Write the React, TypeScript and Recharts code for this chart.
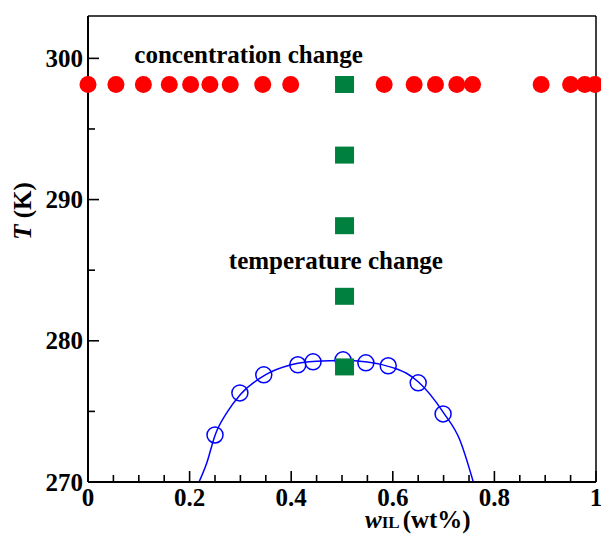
import {
    ComposedChart,
    Line,
    Scatter,
    XAxis,
    YAxis,
    ReferenceLine,
    ReferenceDot
} from 'recharts';

// concentration change points (all at 298.15 K)
const concW = [0, 0.055, 0.109, 0.16, 0.202, 0.24, 0.28, 0.344, 0.399, 0.583, 0.642, 0.684, 0.726, 0.757, 0.892, 0.95, 0.978, 0.998];
const concT = 298.15;

// temperature change points (w = 0.505)
const tempW = 0.505;
const tempT = [298.15, 293.15, 288.15, 283.15, 278.15];

// cloud point measurements
const cloudW = [0.25, 0.299, 0.346, 0.413, 0.443, 0.502, 0.547, 0.591, 0.65, 0.699];
const cloudT = [273.33, 276.31, 277.59, 278.3, 278.51, 278.65, 278.44, 278.23, 277.02, 274.82];

// fitted curve
const curveW = [0.2185, 0.2336, 0.25, 0.275, 0.3, 0.35, 0.4, 0.45, 0.5, 0.55, 0.6, 0.627, 0.65, 0.7, 0.732, 0.7585];
const curveT = [270, 271.33, 273.3, 275.0, 276.2, 277.6, 278.3, 278.55, 278.6, 278.5, 278.1, 277.7, 277.1, 274.9, 272.98, 270];

const xTicks = [0, 0.05, 0.1, 0.15, 0.2, 0.25, 0.3, 0.35, 0.4, 0.45, 0.5, 0.55, 0.6, 0.65, 0.7, 0.75, 0.8, 0.85, 0.9, 0.95, 1];
const xMajor = [0, 0.2, 0.4, 0.6, 0.8, 1];
const yTicks = [270, 275, 280, 285, 290, 295, 300];
const yMajor = [270, 280, 290, 300];

const concData = concW.map(w => ({ w, T: concT }));
const tempData = tempT.map(T => ({ w: tempW, T }));
const cloudData = cloudW.map((w, i) => ({ w, T: cloudT[i] }));
const curveData = curveW.map((w, i) => ({ w, T: curveT[i] }));

const FONT = '"Liberation Serif", "Times New Roman", serif';
const near = (v: number, list: number[]) => list.some(m => Math.abs(m - v) < 1e-6);

const XTick = (props: any) => {
    const { x, y, payload } = props;
    const major = near(payload.value, xMajor);
    const v = payload.value;
    const text = v === 0 ? '0' : v === 1 ? '1' : v.toFixed(1);
    return (
        <g>
            <line x1={x} y1={y} x2={x} y2={y - (major ? 11 : 7)} stroke="#000" strokeWidth={1.6} />
            {major && (
                <text x={x} y={y + 24} textAnchor="middle" fontFamily={FONT} fontWeight="bold" fontSize={25} fill="#000">
                    {text}
                </text>
            )}
        </g>
    );
};

const YTick = (props: any) => {
    const { x, y, payload } = props;
    const major = near(payload.value, yMajor);
    return (
        <g>
            <line x1={x} y1={y} x2={x + (major ? 11 : 7)} y2={y} stroke="#000" strokeWidth={1.6} />
            {major && (
                <text x={x - 5} y={y + 8.5} textAnchor="end" fontFamily={FONT} fontWeight="bold" fontSize={25} fill="#000">
                    {payload.value}
                </text>
            )}
        </g>
    );
};

const RedDot = (p: any) => <circle cx={p.cx} cy={p.cy} r={8.5} fill="#ff0000" />;
const GreenSquare = (p: any) => <rect x={p.cx - 9.5} y={p.cy - 8.5} width={19} height={17} fill="#00803f" />;
const OpenCircle = (p: any) => <circle cx={p.cx} cy={p.cy} r={8} fill="none" stroke="#0000ff" strokeWidth={1.5} />;

const Note = (text: string) => (p: any) => (
    <text x={p.cx} y={p.cy} textAnchor="middle" fontFamily={FONT} fontWeight="bold" fontSize={25} fill="#000">
        {text}
    </text>
);

export default function App() {
    return (
        <div style={{ position: 'absolute', left: 0, top: 0, background: '#fff' }}>
            <ComposedChart width={601} height={534} margin={{ top: 16, right: 5, left: 0, bottom: 0 }}>
                <XAxis
                    dataKey="w"
                    type="number"
                    domain={[0, 1]}
                    ticks={xTicks}
                    interval={0}
                    height={52}
                    tickSize={0}
                    tickMargin={0}
                    tickLine={false}
                    axisLine={{ stroke: '#000', strokeWidth: 2 }}
                    tick={<XTick />}
                    label={{
                        content: (lp: any) => {
                            const vb = lp.viewBox;
                            return (
                                <text x={vb.x + 277} y={vb.y + 46} fontFamily={FONT} fontWeight="bold" fontSize={25} fill="#000">
                                    <tspan fontStyle="italic">w</tspan>
                                    <tspan fontSize={17}>IL</tspan>
                                    <tspan dx={3}>(wt%)</tspan>
                                </text>
                            );
                        }
                    }}
                />
                <YAxis
                    dataKey="T"
                    type="number"
                    domain={[270, 303]}
                    allowDataOverflow
                    ticks={yTicks}
                    interval={0}
                    width={88}
                    tickSize={0}
                    tickMargin={0}
                    tickLine={false}
                    axisLine={{ stroke: '#000', strokeWidth: 2 }}
                    tick={<YTick />}
                    label={{
                        content: (lp: any) => {
                            const vb = lp.viewBox;
                            const cx = vb.x + 31;
                            const cy = vb.y + 195;
                            return (
                                <text x={cx} y={cy} transform={`rotate(-90, ${cx}, ${cy})`} textAnchor="middle" fontFamily={FONT} fontWeight="bold" fontSize={25} fill="#000">
                                    <tspan fontStyle="italic">T</tspan>
                                    <tspan> (K)</tspan>
                                </text>
                            );
                        }
                    }}
                />
                <ReferenceLine y={303} stroke="#444" strokeWidth={2} />
                <ReferenceLine x={1} stroke="#000" strokeWidth={1.5} />

                <Line data={curveData} dataKey="T" type="monotone" stroke="#0000ff" strokeWidth={1.5} dot={false} activeDot={false} isAnimationActive={false} />
                <Scatter data={cloudData} dataKey="T" shape={<OpenCircle />} isAnimationActive={false} />
                <Scatter data={concData} dataKey="T" shape={<RedDot />} isAnimationActive={false} />
                <Scatter data={tempData} dataKey="T" shape={<GreenSquare />} isAnimationActive={false} />

                <ReferenceDot x={0.316} y={299.65} r={0} shape={Note('concentration change')} />
                <ReferenceDot x={0.488} y={285.05} r={0} shape={Note('temperature change')} />
            </ComposedChart>
        </div>
    );
}
